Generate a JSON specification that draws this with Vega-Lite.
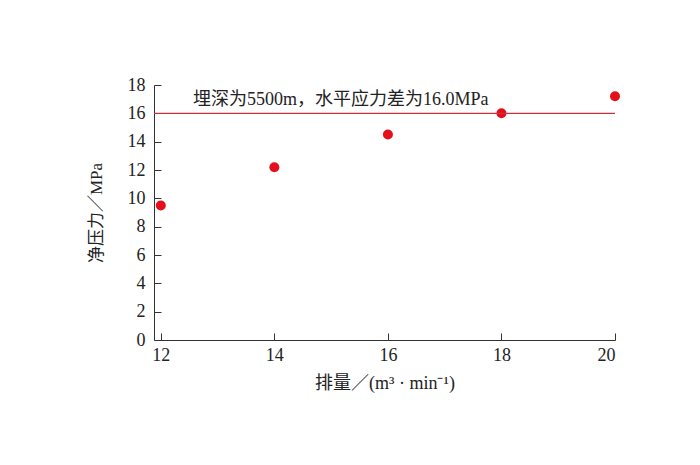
{
  "$schema": "https://vega.github.io/schema/vega-lite/v6.json",
  "width": 461,
  "height": 255,
  "autosize": {"type": "none"},
  "padding": {"left": 154, "top": 85, "right": 85, "bottom": 125},
  "background": "white",
  "config": {
    "view": {"stroke": null},
    "font": "Liberation Serif, Noto Sans CJK SC"
  },
  "datasets": {
    "pts": [
      {"q": 12, "p": 9.5},
      {"q": 14, "p": 12.2},
      {"q": 16, "p": 14.5},
      {"q": 18, "p": 16.0},
      {"q": 20, "p": 17.2}
    ],
    "ref": [{"p": 16.0}],
    "note": [{"q": 12.567, "p": 16.59, "t": "埋深为5500m，水平应力差为16.0MPa"}]
  },
  "layer": [
    {
      "data": {"name": "pts"},
      "mark": {"type": "circle", "color": "#e3101c", "opacity": 1, "size": 100},
      "encoding": {
        "x": {
          "field": "q", "type": "quantitative",
          "scale": {"domain": [11.88, 20], "nice": false, "zero": false},
          "axis": {
            "title": "排量／(m³ · min⁻¹)",
            "values": [12, 14, 16, 18, 20],
            "format": "d",
            "labelOverlap": false,
            "grid": false, "domainColor": "#333", "tickColor": "#333",
            "ticks": true, "tickSize": -7, "tickWidth": 1, "labelPadding": 13,
            "labelFont": "Liberation Serif", "labelFontSize": 18, "labelColor": "#222",
            "titleFont": "Liberation Serif, Noto Sans CJK SC", "titleFontSize": 18, "titleFontWeight": "normal", "titleColor": "#222",
            "titlePadding": 10
          }
        },
        "y": {
          "field": "p", "type": "quantitative",
          "scale": {"domain": [0, 18], "nice": false},
          "axis": {
            "title": "净压力／MPa",
            "values": [0, 2, 4, 6, 8, 10, 12, 14, 16, 18],
            "format": "d",
            "labelOverlap": false,
            "grid": false, "domainColor": "#333", "tickColor": "#333",
            "ticks": true, "tickSize": -7, "tickWidth": 1, "labelPadding": 16,
            "labelFont": "Liberation Serif", "labelFontSize": 18, "labelColor": "#222",
            "titleFont": "Liberation Serif, Noto Sans CJK SC", "titleFontSize": 17, "titleFontWeight": "normal", "titleColor": "#222",
            "titlePadding": 22
          }
        }
      }
    },
    {
      "data": {"name": "ref"},
      "mark": {"type": "rule", "color": "#c8323c", "strokeWidth": 1.2},
      "encoding": {
        "y": {
          "field": "p", "type": "quantitative",
          "axis": {
            "title": "净压力／MPa",
            "values": [0, 2, 4, 6, 8, 10, 12, 14, 16, 18],
            "format": "d",
            "labelOverlap": false,
            "grid": false, "domainColor": "#333", "tickColor": "#333",
            "ticks": true, "tickSize": -7, "tickWidth": 1, "labelPadding": 16,
            "labelFont": "Liberation Serif", "labelFontSize": 18, "labelColor": "#222",
            "titleFont": "Liberation Serif, Noto Sans CJK SC", "titleFontSize": 17, "titleFontWeight": "normal", "titleColor": "#222",
            "titlePadding": 22
          }
        }
      }
    },
    {
      "data": {"name": "note"},
      "mark": {"type": "text", "align": "left", "baseline": "alphabetic", "fontSize": 18, "color": "#222", "font": "Liberation Serif, Noto Sans CJK SC"},
      "encoding": {
        "x": {
          "field": "q", "type": "quantitative",
          "axis": {
            "title": "排量／(m³ · min⁻¹)",
            "values": [12, 14, 16, 18, 20],
            "format": "d",
            "labelOverlap": false,
            "grid": false, "domainColor": "#333", "tickColor": "#333",
            "ticks": true, "tickSize": -7, "tickWidth": 1, "labelPadding": 13,
            "labelFont": "Liberation Serif", "labelFontSize": 18, "labelColor": "#222",
            "titleFont": "Liberation Serif, Noto Sans CJK SC", "titleFontSize": 18, "titleFontWeight": "normal", "titleColor": "#222",
            "titlePadding": 10
          }
        },
        "y": {
          "field": "p", "type": "quantitative",
          "axis": {
            "title": "净压力／MPa",
            "values": [0, 2, 4, 6, 8, 10, 12, 14, 16, 18],
            "format": "d",
            "labelOverlap": false,
            "grid": false, "domainColor": "#333", "tickColor": "#333",
            "ticks": true, "tickSize": -7, "tickWidth": 1, "labelPadding": 16,
            "labelFont": "Liberation Serif", "labelFontSize": 18, "labelColor": "#222",
            "titleFont": "Liberation Serif, Noto Sans CJK SC", "titleFontSize": 17, "titleFontWeight": "normal", "titleColor": "#222",
            "titlePadding": 22
          }
        },
        "text": {"field": "t"}
      }
    }
  ]
}
